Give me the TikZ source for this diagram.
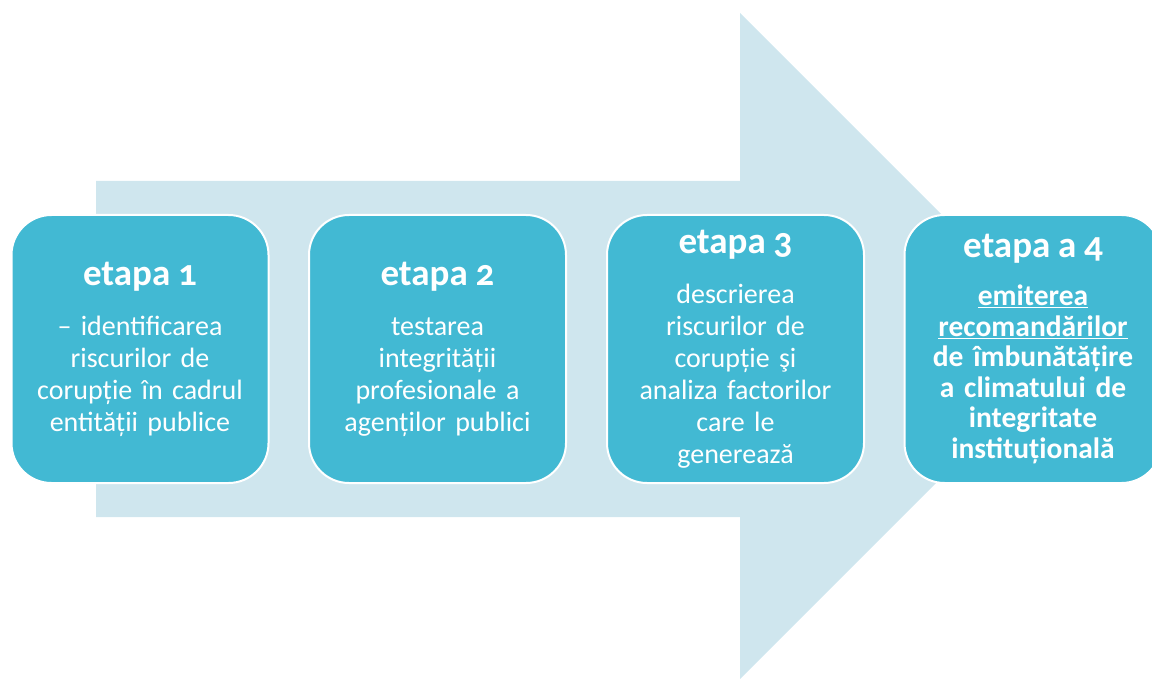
\documentclass[tikz,border=0pt]{standalone}
\usepackage{fontspec}
\setmainfont{Carlito}[Numbers=OldStyle]
\definecolor{boxc}{HTML}{42B9D3}
\definecolor{arrc}{HTML}{CFE6EE}
\newcommand{\tightsp}{\spaceskip=0.19em plus 0.02em\relax}
\tikzset{
  stagebox/.style={draw=white, line width=2pt, fill=boxc, rounded corners=40pt,
    minimum width=257pt, minimum height=268pt, text=white, align=center,
    inner sep=0pt, text width=256pt, font=\fontsize{28}{32}\selectfont\tightsp}
}
\newcommand{\stagetitle}[1]{{\fontsize{37}{32}\selectfont\bfseries\tightsp #1}\\[18pt]}
\begin{document}
\begin{tikzpicture}[x=1pt,y=-1pt]
\useasboundingbox (0,0) rectangle (1152,679);
\fill[arrc] (96,181) -- (740,181) -- (740,13) -- (1073,346) -- (740,679) -- (740,517) -- (96,517) -- cycle;
\node[stagebox] (s1) at (140,349) {\stagetitle{etapa 1}– identificarea\\ riscurilor de\\ corupție în cadrul\\ entității publice};
\node[stagebox] (s2) at (437.5,349) {\stagetitle{etapa 2}testarea\\ integrității\\ profesionale a\\ agenților publici};
\node[stagebox] (s3) at (735.5,349) {\stagetitle{etapa 3}descrierea\\ riscurilor de\\ corupție şi\\ analiza factorilor\\ care le\\ generează};
\node[stagebox, font=\fontsize{29.5}{30.5}\selectfont\bfseries\tightsp] (s4) at (1033,349) {\stagetitle{etapa a 4}\underline{emiterea}\\ \underline{recomandărilor}\\ de îmbunătățire\\ a climatului de\\ integritate\\ instituțională};
\end{tikzpicture}
\end{document}
